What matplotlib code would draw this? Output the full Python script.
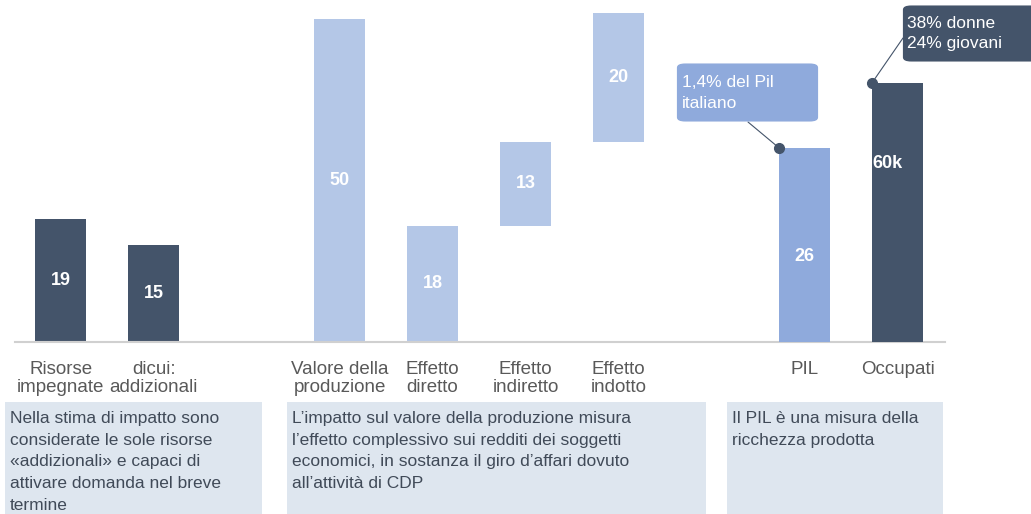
import matplotlib
matplotlib.use("Agg")
import matplotlib.pyplot as plt
from matplotlib.patches import FancyBboxPatch, Rectangle

plt.rcParams['font.family'] = ['Liberation Sans', 'DejaVu Sans']

# dati (miliardi di euro, occupati in migliaia)
categorie = ["Risorse\nimpegnate", "dicui:\naddizionali", "Valore della\nproduzione",
             "Effetto\ndiretto", "Effetto\nindiretto", "Effetto\nindotto", "PIL", "Occupati"]
posizioni = [0, 1, 3, 4, 5, 6, 8, 9]
risorse = [19, 15]
valore_produzione = 50
effetti = [18, 13, 20]
pil = 26
occupati = 60
etichette = ["19", "15", "50", "18", "13", "20", "26", "60k"]

note = [
    "Nella stima di impatto sono\nconsiderate le sole risorse\n«addizionali» e capaci di\nattivare domanda nel breve\ntermine",
    "L’impatto sul valore della produzione misura\nl’effetto complessivo sui redditi dei soggetti\neconomici, in sostanza il giro d’affari dovuto\nall’attività di CDP",
    "Il PIL è una misura della\nricchezza prodotta",
]
callout_pil = "1,4% del Pil\nitaliano"
callout_occ = "38% donne\n24% giovani"

scuro = "#44546A"
chiaro = "#B4C7E7"
medio = "#8FAADC"
box_col = "#DEE6EF"
grigio = "#595959"

W, H = 1031, 514
fig = plt.figure(figsize=(W / 100, H / 100), dpi=100)

def fx(x):
    return x / W

def fy(y):
    return 1 - y / H

ax = fig.add_axes([fx(15), fy(342), fx(930), 342 / H])
ax_pil = ax.twinx()
ax_occ = ax.twinx()
bw = 0.55

# barre risorse
ax.bar(posizioni[:2], risorse, width=bw, color=scuro)
# valore della produzione
ax.bar(posizioni[2], valore_produzione, width=bw, color=chiaro)
# cascata degli effetti
basi = [0, effetti[0], effetti[0] + effetti[1]]
ax.bar(posizioni[3:6], effetti, bottom=basi, width=bw, color=chiaro)
# PIL e occupati su scale proprie
ax_pil.bar(posizioni[6], pil, width=bw, color=medio)
ax_occ.bar(posizioni[7], occupati, width=bw, color=scuro)

ax.set_xlim(-0.49, 9.51)
ax.set_ylim(0, 53.0)
ax_pil.set_ylim(0, 45.8)
ax_occ.set_ylim(0, 79.2)

for a in (ax, ax_pil, ax_occ):
    for s in a.spines.values():
        s.set_visible(False)
    a.set_yticks([])
ax.spines['bottom'].set_visible(True)
ax.spines['bottom'].set_color("#D0D0D0")
ax.spines['bottom'].set_linewidth(1.5)

ax.set_xticks(posizioni)
ax.set_xticklabels(categorie, fontsize=13.5, color=grigio)
ax.tick_params(axis='x', length=0, pad=14)
for lbl in ax.get_xticklabels():
    lbl.set_linespacing(1.05)

# etichette valori
txt = dict(color="white", fontsize=13, fontweight="bold", ha="center", va="center")
ax.text(posizioni[0], risorse[0] / 2, etichette[0], **txt)
ax.text(posizioni[1], risorse[1] / 2, etichette[1], **txt)
ax.text(posizioni[2], valore_produzione / 2, etichette[2], **txt)
for p, b, h, e in zip(posizioni[3:6], basi, effetti, etichette[3:6]):
    ax.text(p, b + h / 2, e, **txt)
ax_pil.text(posizioni[6], pil * 0.44, etichette[6], **txt)
ax_occ.text(posizioni[7] - bw / 2, occupati * 0.69, etichette[7],
            color="white", fontsize=13, fontweight="bold", ha="left", va="center")

# callout PIL
fig.add_artist(FancyBboxPatch((fx(680), fy(120)), fx(135), (120 - 65) / H,
                              boxstyle="round,pad=0.003,rounding_size=0.008",
                              transform=fig.transFigure, fc=medio, ec="none"))
fig.text(fx(682), fy(93), callout_pil, color="white", fontsize=12.5,
         va="center", ha="left", linespacing=1.45)
ax_pil.annotate("", xy=(posizioni[6] - bw / 2, pil), xycoords="data",
                xytext=(fx(748), fy(122)), textcoords="figure fraction",
                arrowprops=dict(arrowstyle="-", color=scuro, lw=0.8, shrinkA=0, shrinkB=0))
ax_pil.plot(posizioni[6] - bw / 2, pil, "o", color=scuro, ms=7, clip_on=False)

# callout occupati
fig.add_artist(FancyBboxPatch((fx(906), fy(60)), fx(130), (60 - 7) / H,
                              boxstyle="round,pad=0.003,rounding_size=0.008",
                              transform=fig.transFigure, fc=scuro, ec="none"))
fig.text(fx(907), fy(33.5), callout_occ, color="white", fontsize=12.5,
         va="center", ha="left", linespacing=1.45)
ax_occ.annotate("", xy=(posizioni[7] - bw / 2, occupati), xycoords="data",
                xytext=(fx(903), fy(38)), textcoords="figure fraction",
                arrowprops=dict(arrowstyle="-", color=scuro, lw=0.8, shrinkA=0, shrinkB=0))
ax_occ.plot(posizioni[7] - bw / 2, occupati, "o", color=scuro, ms=7, clip_on=False)

# riquadri di nota
riquadri = [(5, 262), (287, 706), (727, 943)]
for (x0, x1), testo in zip(riquadri, note):
    fig.add_artist(Rectangle((fx(x0), 0), fx(x1 - x0), (514 - 402) / H,
                             transform=fig.transFigure, fc=box_col, ec="none"))
    fig.text(fx(x0 + 5), fy(411), testo, color="#404A58", fontsize=12.5,
             va="top", ha="left", linespacing=1.56)

fig.savefig("out.png", dpi=100)
